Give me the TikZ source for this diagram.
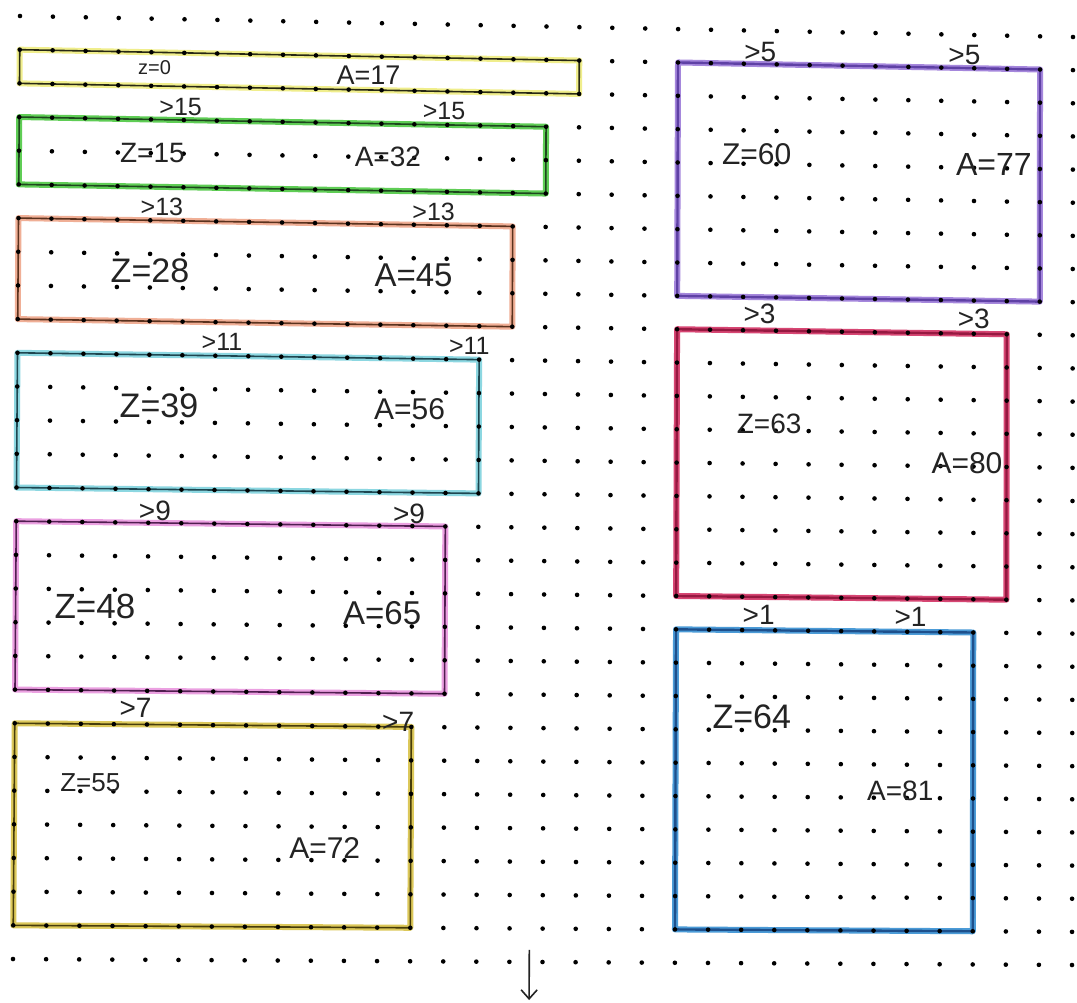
\documentclass[tikz,border=0pt]{standalone}
\usepackage{fontspec}
\setmainfont{Liberation Sans}
\usetikzlibrary{arrows.meta}
\newcommand\gridX[2]{20+32.906*(#1)-0.25*(#2)+0.0067*(#1)*(#2)}
\newcommand\gridY[2]{16+0.65625*(#1)+33.679*(#2)-0.01674*(#1)*(#2)}
\newcommand\mkbox[6]{%
  \coordinate (#1-a) at ({\gridX{#2}{#3}},{\gridY{#2}{#3}});
  \coordinate (#1-b) at ({\gridX{#4}{#3}},{\gridY{#4}{#3}});
  \coordinate (#1-c) at ({\gridX{#4}{#5}},{\gridY{#4}{#5}});
  \coordinate (#1-d) at ({\gridX{#2}{#5}},{\gridY{#2}{#5}});
  \draw[#6] (#1-a) -- (#1-b) -- (#1-c) -- (#1-d) -- cycle;}
\newcommand\lbl[5]{%
  \node[lbl] (#1) at ({\gridX{#2}{#3}},{\gridY{#2}{#3}}) {\fontsize{#4}{#4}\selectfont #5};}
\definecolor{inkc}{RGB}{35,35,35}
\definecolor{yellowhl}{RGB}{240,238,140}
\definecolor{yellowln}{RGB}{40,40,20}
\definecolor{greenhl}{RGB}{95,205,85}
\definecolor{greenln}{RGB}{30,70,30}
\definecolor{orangehl}{RGB}{240,175,150}
\definecolor{orangeln}{RGB}{90,50,30}
\definecolor{cyanhl}{RGB}{140,215,225}
\definecolor{cyanln}{RGB}{30,70,80}
\definecolor{pinkhl}{RGB}{235,160,225}
\definecolor{pinkln}{RGB}{80,30,80}
\definecolor{olivehl}{RGB}{220,200,90}
\definecolor{oliveln}{RGB}{70,60,10}
\definecolor{purplehl}{RGB}{165,135,220}
\definecolor{purpleln}{RGB}{95,65,165}
\definecolor{crimsonhl}{RGB}{215,70,115}
\definecolor{crimsonln}{RGB}{150,25,65}
\definecolor{bluehl}{RGB}{75,155,215}
\definecolor{blueln}{RGB}{30,80,140}
\tikzset{
  lbox/.style 2 args={preaction={draw=#1,line width=6pt,line join=round},draw=#2,line width=1.6pt,line join=round},
  rbox/.style 2 args={preaction={draw=#1,line width=6pt,line join=round},draw=#2,line width=2.4pt,line join=round},
  lbl/.style={inner sep=0pt,text=inkc},
  dotc/.style={fill=black}
}
\begin{document}
\begin{tikzpicture}[x=1pt,y=-1pt]
\fill[white] (0,0) rectangle (1077,1003);
\useasboundingbox (0,0) rectangle (1077,1003);
% boxes
\mkbox{yel}{0}{1}{17}{2}{lbox={yellowhl}{yellowln}}
\mkbox{grn}{0}{3}{16}{5}{lbox={greenhl}{greenln}}
\mkbox{org}{0}{6}{15}{9}{lbox={orangehl}{orangeln}}
\mkbox{cyn}{0}{10}{14}{14}{lbox={cyanhl}{cyanln}}
\mkbox{pnk}{0}{15}{13}{20}{lbox={pinkhl}{pinkln}}
\mkbox{olv}{0}{21}{12}{27}{lbox={olivehl}{oliveln}}
\mkbox{pur}{20}{1}{31}{8}{rbox={purplehl}{purpleln}}
\mkbox{crm}{20}{9}{30}{17}{rbox={crimsonhl}{crimsonln}}
\mkbox{blu}{20}{18}{29}{27}{rbox={bluehl}{blueln}}
% dot grid
\foreach \i in {0,...,32}{
  \foreach \j in {0,...,28}{
    \fill[dotc] ({\gridX{\i}{\j}},{\gridY{\i}{\j}}) circle (2.3pt);
  }
}
% labels
\lbl{t1}{4.1}{1.45}{20}{z=0}
\lbl{t2}{10.6}{1.55}{27}{A=17}
\lbl{g1}{4.9}{2.6}{25}{>15}
\lbl{g2}{12.9}{2.6}{25}{>15}
\lbl{t3}{4.05}{4.0}{28}{Z=15}
\lbl{t4}{11.2}{4.0}{28}{A=32}
\lbl{g3}{4.35}{5.6}{25}{>13}
\lbl{g4}{12.6}{5.6}{25}{>13}
\lbl{t5}{4.0}{7.5}{34}{Z=28}
\lbl{t6}{12.0}{7.5}{33}{A=45}
\lbl{g5}{6.2}{9.6}{25}{>11}
\lbl{g6}{13.7}{9.6}{25}{>11}
\lbl{t7}{4.3}{11.5}{34}{Z=39}
\lbl{t8}{11.9}{11.5}{30}{A=56}
\lbl{g7}{4.2}{14.63}{28}{>9}
\lbl{g8}{11.9}{14.63}{28}{>9}
\lbl{t9}{2.4}{17.5}{35}{Z=48}
\lbl{t10}{11.1}{17.6}{33}{A=65}
\lbl{g9}{3.65}{20.5}{28}{>7}
\lbl{g10}{11.6}{20.85}{28}{>7}
\lbl{t11}{2.3}{22.75}{26}{Z=55}
\lbl{t12}{9.4}{24.65}{30}{A=72}
\lbl{g11}{22.5}{0.65}{28}{>5}
\lbl{g12}{28.7}{0.62}{28}{>5}
\lbl{t13}{22.4}{3.7}{30}{Z=60}
\lbl{t14}{29.6}{3.9}{32}{A=77}
\lbl{g13}{22.5}{8.5}{28}{>3}
\lbl{g14}{29.0}{8.55}{28}{>3}
\lbl{t15}{22.8}{11.8}{28}{Z=63}
\lbl{t16}{28.8}{12.9}{30}{A=80}
\lbl{g15}{22.5}{17.55}{28}{>1}
\lbl{g16}{27.1}{17.55}{28}{>1}
\lbl{t17}{22.3}{20.6}{34}{Z=64}
\lbl{t18}{26.8}{22.8}{28}{A=81}
% arrow
\coordinate (arrS) at ({\gridX{15.6}{27.64}},{\gridY{15.6}{27.64}});
\coordinate (arrE) at ({\gridX{15.6}{29.14}},{\gridY{15.6}{29.14}});
\draw[inkc,line width=1.6pt,-{Straight Barb[length=9pt,width=16pt,line width=1.6pt]}] (arrS) -- (arrE);
\end{tikzpicture}
\end{document}
